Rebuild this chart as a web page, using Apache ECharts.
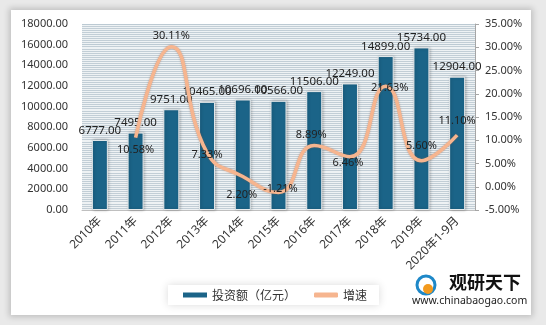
<!DOCTYPE html>
<html><head><meta charset="utf-8">
<script src="https://cdn.jsdelivr.net/npm/echarts@6/dist/echarts.min.js"></script>
<style>
html,body{margin:0;padding:0;width:546px;height:325px;background:#e9e9e9;overflow:hidden;}
#card{position:absolute;left:11px;top:10px;width:520px;height:305px;background:#fff;box-shadow:0 0 6px 2px rgba(0,0,0,0.18);}
#chart{position:absolute;left:0;top:0;width:546px;height:325px;}
</style></head>
<body>
<div id="card"></div>
<div id="chart"></div>
<script>
var categories = ['2010年','2011年','2012年','2013年','2014年','2015年','2016年','2017年','2018年','2019年','2020年1-9月'];
var investment = [6777, 7495, 9751, 10465, 10696, 10566, 11506, 12249, 14899, 15734, 12904];
var growth = ['-', 10.58, 30.11, 7.33, 2.20, -1.21, 8.89, 6.46, 21.63, 5.60, 11.10];
var leftTicks = {min: 0, max: 18000, interval: 2000};
var rightTicks = {min: -5, max: 35, interval: 5};

var FONT = '"Noto Sans", "Noto Sans CJK SC", sans-serif';
var growthLabelPos = ['top','bottom','top','inside','bottom','inside','top','inside','inside','top','top'];
var growthOffsets = [[0,0],[0,2],[0,0],[0,2],[-1,8],[2,-4],[-3,0],[-2,6],[4,2],[0,-4],[0,-4]];
var growthData = growth.map(function(v, i){
  return {value: v, label: {position: growthLabelPos[i], offset: growthOffsets[i]}};
});

var chart = echarts.init(document.getElementById('chart'));
chart.setOption({
  animation: false,
  backgroundColor: 'transparent',
  textStyle: {fontFamily: FONT},
  grid: {left: 82, right: 71, top: 24, bottom: 115, backgroundColor: '#eef2f4', show: true, borderWidth: 0},
  xAxis: {
    type: 'category', data: categories,
    axisLine: {show: true, lineStyle: {color: '#bfbfbf'}},
    axisTick: {show: false},
    axisLabel: {rotate: 45, color: '#333', fontSize: 12, margin: 9, interval: 0, fontFamily: FONT}
  },
  yAxis: [{
    type: 'value', min: leftTicks.min, max: leftTicks.max, interval: leftTicks.interval,
    axisLine: {show: false}, axisTick: {show: false},
    axisLabel: {color: '#333', fontSize: 11, margin: 14, fontFamily: FONT, formatter: function(v){return v.toFixed(2);}},
    splitLine: {show: true, lineStyle: {color: '#bccad3', width: 1}},
    minorTick: {show: false, splitNumber: 10},
    minorSplitLine: {show: true, lineStyle: {color: '#c2ced6', width: 1}}
  }, {
    type: 'value', min: rightTicks.min, max: rightTicks.max, interval: rightTicks.interval,
    axisLine: {show: true, lineStyle: {color: '#a6a6a6'}},
    axisTick: {show: true, length: 4, lineStyle: {color: '#a6a6a6'}},
    axisLabel: {color: '#333', fontSize: 11, margin: 10, fontFamily: FONT, formatter: function(v){return v.toFixed(2) + '%';}},
    splitLine: {show: false}
  }],
  legend: {
    top: 285, left: 168, itemGap: 18,
    backgroundColor: '#fff', padding: [4, 12, 4, 15],
    shadowBlur: 8, shadowColor: 'rgba(0,0,0,0.15)',
    textStyle: {color: '#333', fontSize: 12, fontFamily: '"Noto Sans CJK SC"'},
    data: [
      {name: '投资额（亿元）', icon: 'rect', itemStyle: {color: '#1b6488', borderWidth: 0}},
      {name: '增速', icon: 'roundRect', itemStyle: {color: '#f6b58f', opacity: 1, borderWidth: 0}}
    ],
    itemWidth: 24, itemHeight: 5
  },
  series: [{
    name: '投资额（亿元）', type: 'bar', data: investment, barWidth: 16,
    itemStyle: {color: '#1b6488', borderColor: '#e6eaec', borderWidth: 1, shadowBlur: 3, shadowColor: 'rgba(0,0,0,0.25)', shadowOffsetX: 1},
    label: {show: true, position: 'top', distance: 4, color: '#222', fontSize: 11.5, fontFamily: FONT,
      formatter: function(p){return p.value.toFixed(2);}}
  }, {
    name: '增速', type: 'line', yAxisIndex: 1, data: growthData, smooth: 0.5,
    symbol: 'circle', symbolSize: 2, showSymbol: true, connectNulls: false,
    lineStyle: {color: '#f6b58f', width: 3.5, shadowBlur: 2, shadowColor: 'rgba(150,90,60,0.5)'},
    itemStyle: {color: 'rgba(246,181,143,0)', borderWidth: 0},
    label: {show: true, color: '#222', fontSize: 11, distance: 4, fontFamily: FONT,
      formatter: function(p){return p.value.toFixed(2) + '%';}},
    z: 5
  }],
  graphic: [
    {type: 'circle', z: 100, shape: {cx: 426, cy: 285, r: 9}, style: {fill: 'none', stroke: '#1e88c8', lineWidth: 3}},
    {type: 'circle', z: 100, shape: {cx: 428, cy: 289, r: 5}, style: {fill: '#f39a1e'}},
    {type: 'text', z: 100, left: 449, top: 273, style: {text: '观研天下', font: 'bold 18px "Noto Sans CJK SC"', fill: '#111'}},
    {type: 'text', z: 100, left: 412, top: 296, style: {text: 'www.chinabaogao.com', font: '10.5px "Noto Sans"', fill: '#222'}}
  ]
});
</script>
</body></html>
